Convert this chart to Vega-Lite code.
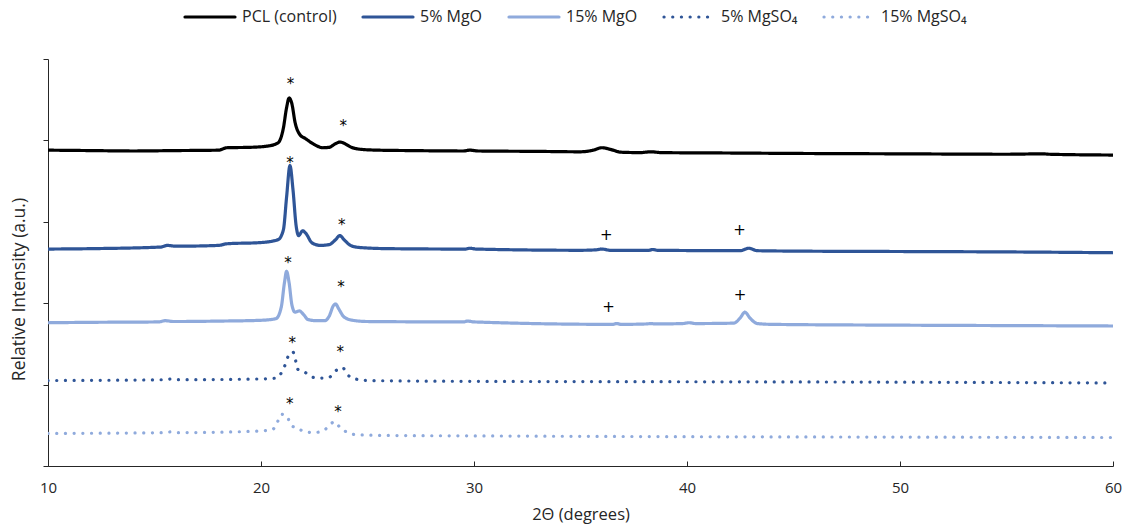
{
 "$schema": "https://vega.github.io/schema/vega-lite/v6.json",
 "width": 1065, "height": 407,
 "autosize": {"type": "none"},
 "padding": {"left": 48, "top": 59, "right": 14, "bottom": 63},
 "background": "white",
 "config": {
  "font": "Open Sans",
  "view": {"stroke": null},
  "axis": {"grid": false, "domainColor": "#262626", "tickColor": "#262626", "labelColor": "#262626", "titleColor": "#262626", "labelFont": "Open Sans", "titleFont": "Open Sans", "labelFontSize": 15, "titleFontSize": 16.5, "titleFontWeight": "normal"},
  "legend": {"labelFont": "Open Sans", "labelFontSize": 16, "labelColor": "#262626"}
 },
 "datasets": {
  "curves": [
   {"s":"PCL (control)","x":10,"y":3.88},{"s":"PCL (control)","x":12,"y":3.875},{"s":"PCL (control)","x":14,"y":3.87},{"s":"PCL (control)","x":16,"y":3.875},{"s":"PCL (control)","x":18,"y":3.88},{"s":"PCL (control)","x":18.4,"y":3.91},{"s":"PCL (control)","x":19.5,"y":3.915},{"s":"PCL (control)","x":20.3,"y":3.93},{"s":"PCL (control)","x":20.8,"y":3.97},{"s":"PCL (control)","x":21.05,"y":4.15},{"s":"PCL (control)","x":21.2,"y":4.4},{"s":"PCL (control)","x":21.32,"y":4.52},{"s":"PCL (control)","x":21.45,"y":4.45},{"s":"PCL (control)","x":21.6,"y":4.22},{"s":"PCL (control)","x":21.8,"y":4.08},{"s":"PCL (control)","x":22.1,"y":4.02},{"s":"PCL (control)","x":22.5,"y":3.95},{"s":"PCL (control)","x":22.9,"y":3.91},{"s":"PCL (control)","x":23.2,"y":3.915},{"s":"PCL (control)","x":23.5,"y":3.96},{"s":"PCL (control)","x":23.7,"y":3.98},{"s":"PCL (control)","x":23.9,"y":3.965},{"s":"PCL (control)","x":24.2,"y":3.92},{"s":"PCL (control)","x":24.7,"y":3.89},{"s":"PCL (control)","x":25.5,"y":3.88},{"s":"PCL (control)","x":27,"y":3.875},{"s":"PCL (control)","x":29.5,"y":3.87},{"s":"PCL (control)","x":29.8,"y":3.88},{"s":"PCL (control)","x":30.2,"y":3.87},{"s":"PCL (control)","x":33,"y":3.865},{"s":"PCL (control)","x":35,"y":3.86},{"s":"PCL (control)","x":35.6,"y":3.88},{"s":"PCL (control)","x":36,"y":3.91},{"s":"PCL (control)","x":36.4,"y":3.89},{"s":"PCL (control)","x":36.9,"y":3.855},{"s":"PCL (control)","x":37.8,"y":3.85},{"s":"PCL (control)","x":38.3,"y":3.86},{"s":"PCL (control)","x":38.8,"y":3.85},{"s":"PCL (control)","x":42,"y":3.845},{"s":"PCL (control)","x":45,"y":3.84},{"s":"PCL (control)","x":50,"y":3.835},{"s":"PCL (control)","x":55,"y":3.83},{"s":"PCL (control)","x":56.7,"y":3.835},{"s":"PCL (control)","x":57,"y":3.83},{"s":"PCL (control)","x":60,"y":3.82},

   {"s":"5% MgO","x":10,"y":2.665},{"s":"5% MgO","x":12,"y":2.67},{"s":"5% MgO","x":15.3,"y":2.69},{"s":"5% MgO","x":15.6,"y":2.71},{"s":"5% MgO","x":16,"y":2.7},{"s":"5% MgO","x":18,"y":2.71},{"s":"5% MgO","x":18.4,"y":2.73},{"s":"5% MgO","x":20,"y":2.745},{"s":"5% MgO","x":20.8,"y":2.78},{"s":"5% MgO","x":21.05,"y":2.9},{"s":"5% MgO","x":21.2,"y":3.3},{"s":"5% MgO","x":21.36,"y":3.69},{"s":"5% MgO","x":21.5,"y":3.4},{"s":"5% MgO","x":21.65,"y":2.95},{"s":"5% MgO","x":21.77,"y":2.83},{"s":"5% MgO","x":21.95,"y":2.89},{"s":"5% MgO","x":22.1,"y":2.86},{"s":"5% MgO","x":22.4,"y":2.74},{"s":"5% MgO","x":22.8,"y":2.71},{"s":"5% MgO","x":23.2,"y":2.72},{"s":"5% MgO","x":23.5,"y":2.78},{"s":"5% MgO","x":23.7,"y":2.83},{"s":"5% MgO","x":23.9,"y":2.78},{"s":"5% MgO","x":24.2,"y":2.71},{"s":"5% MgO","x":24.6,"y":2.685},{"s":"5% MgO","x":26,"y":2.67},{"s":"5% MgO","x":29.6,"y":2.665},{"s":"5% MgO","x":29.8,"y":2.675},{"s":"5% MgO","x":30.1,"y":2.665},{"s":"5% MgO","x":35,"y":2.65},{"s":"5% MgO","x":35.7,"y":2.655},{"s":"5% MgO","x":36,"y":2.665},{"s":"5% MgO","x":36.4,"y":2.65},{"s":"5% MgO","x":38.2,"y":2.65},{"s":"5% MgO","x":38.4,"y":2.66},{"s":"5% MgO","x":38.6,"y":2.65},{"s":"5% MgO","x":42.5,"y":2.645},{"s":"5% MgO","x":42.9,"y":2.675},{"s":"5% MgO","x":43.3,"y":2.645},{"s":"5% MgO","x":45,"y":2.64},{"s":"5% MgO","x":50,"y":2.635},{"s":"5% MgO","x":55,"y":2.63},{"s":"5% MgO","x":60,"y":2.62},

   {"s":"15% MgO","x":10,"y":1.76},{"s":"15% MgO","x":12,"y":1.765},{"s":"15% MgO","x":15.2,"y":1.77},{"s":"15% MgO","x":15.5,"y":1.785},{"s":"15% MgO","x":15.9,"y":1.775},{"s":"15% MgO","x":18,"y":1.78},{"s":"15% MgO","x":20,"y":1.79},{"s":"15% MgO","x":20.7,"y":1.81},{"s":"15% MgO","x":20.95,"y":1.95},{"s":"15% MgO","x":21.1,"y":2.25},{"s":"15% MgO","x":21.2,"y":2.39},{"s":"15% MgO","x":21.32,"y":2.25},{"s":"15% MgO","x":21.45,"y":1.98},{"s":"15% MgO","x":21.6,"y":1.89},{"s":"15% MgO","x":21.8,"y":1.905},{"s":"15% MgO","x":22,"y":1.86},{"s":"15% MgO","x":22.2,"y":1.8},{"s":"15% MgO","x":22.6,"y":1.785},{"s":"15% MgO","x":23,"y":1.785},{"s":"15% MgO","x":23.2,"y":1.84},{"s":"15% MgO","x":23.4,"y":1.97},{"s":"15% MgO","x":23.5,"y":1.99},{"s":"15% MgO","x":23.65,"y":1.93},{"s":"15% MgO","x":23.9,"y":1.83},{"s":"15% MgO","x":24.3,"y":1.79},{"s":"15% MgO","x":25,"y":1.775},{"s":"15% MgO","x":29.5,"y":1.77},{"s":"15% MgO","x":29.7,"y":1.78},{"s":"15% MgO","x":30,"y":1.77},{"s":"15% MgO","x":36.5,"y":1.74},{"s":"15% MgO","x":36.7,"y":1.75},{"s":"15% MgO","x":36.9,"y":1.74},{"s":"15% MgO","x":38.1,"y":1.745},{"s":"15% MgO","x":38.3,"y":1.75},{"s":"15% MgO","x":38.5,"y":1.745},{"s":"15% MgO","x":39.8,"y":1.75},{"s":"15% MgO","x":40.1,"y":1.76},{"s":"15% MgO","x":40.4,"y":1.75},{"s":"15% MgO","x":42.2,"y":1.755},{"s":"15% MgO","x":42.5,"y":1.82},{"s":"15% MgO","x":42.72,"y":1.89},{"s":"15% MgO","x":42.95,"y":1.82},{"s":"15% MgO","x":43.3,"y":1.75},{"s":"15% MgO","x":44,"y":1.74},{"s":"15% MgO","x":50,"y":1.73},{"s":"15% MgO","x":55,"y":1.725},{"s":"15% MgO","x":60,"y":1.72},

   {"s":"5% MgSO₄","x":10,"y":1.05},{"s":"5% MgSO₄","x":15.5,"y":1.06},{"s":"5% MgSO₄","x":15.8,"y":1.07},{"s":"5% MgSO₄","x":16.1,"y":1.06},{"s":"5% MgSO₄","x":20,"y":1.07},{"s":"5% MgSO₄","x":20.7,"y":1.08},{"s":"5% MgSO₄","x":20.97,"y":1.15},{"s":"5% MgSO₄","x":21.13,"y":1.24},{"s":"5% MgSO₄","x":21.28,"y":1.35},{"s":"5% MgSO₄","x":21.5,"y":1.4},{"s":"5% MgSO₄","x":21.63,"y":1.29},{"s":"5% MgSO₄","x":21.72,"y":1.19},{"s":"5% MgSO₄","x":22.07,"y":1.15},{"s":"5% MgSO₄","x":22.43,"y":1.09},{"s":"5% MgSO₄","x":22.82,"y":1.08},{"s":"5% MgSO₄","x":23.2,"y":1.09},{"s":"5% MgSO₄","x":23.51,"y":1.17},{"s":"5% MgSO₄","x":23.82,"y":1.21},{"s":"5% MgSO₄","x":24.07,"y":1.12},{"s":"5% MgSO₄","x":24.43,"y":1.07},{"s":"5% MgSO₄","x":25,"y":1.05},{"s":"5% MgSO₄","x":30,"y":1.04},{"s":"5% MgSO₄","x":40,"y":1.035},{"s":"5% MgSO₄","x":50,"y":1.03},{"s":"5% MgSO₄","x":60,"y":1.02},

   {"s":"15% MgSO₄","x":10,"y":0.4},{"s":"15% MgSO₄","x":15.5,"y":0.41},{"s":"15% MgSO₄","x":15.8,"y":0.42},{"s":"15% MgSO₄","x":16.1,"y":0.41},{"s":"15% MgSO₄","x":20,"y":0.43},{"s":"15% MgSO₄","x":20.55,"y":0.45},{"s":"15% MgSO₄","x":20.77,"y":0.54},{"s":"15% MgSO₄","x":20.95,"y":0.635},{"s":"15% MgSO₄","x":21.23,"y":0.61},{"s":"15% MgSO₄","x":21.38,"y":0.51},{"s":"15% MgSO₄","x":21.72,"y":0.46},{"s":"15% MgSO₄","x":22.1,"y":0.42},{"s":"15% MgSO₄","x":22.47,"y":0.41},{"s":"15% MgSO₄","x":22.9,"y":0.43},{"s":"15% MgSO₄","x":23.19,"y":0.49},{"s":"15% MgSO₄","x":23.44,"y":0.545},{"s":"15% MgSO₄","x":23.72,"y":0.47},{"s":"15% MgSO₄","x":24.08,"y":0.41},{"s":"15% MgSO₄","x":24.46,"y":0.385},{"s":"15% MgSO₄","x":26,"y":0.375},{"s":"15% MgSO₄","x":30,"y":0.37},{"s":"15% MgSO₄","x":40,"y":0.36},{"s":"15% MgSO₄","x":50,"y":0.355},{"s":"15% MgSO₄","x":60,"y":0.35}
  ],
  "stars": [
   {"x":21.39,"y":4.73},{"x":23.86,"y":4.22},
   {"x":21.36,"y":3.77},{"x":23.79,"y":3.0},
   {"x":21.27,"y":2.54},{"x":23.76,"y":2.24},
   {"x":21.47,"y":1.56},{"x":23.72,"y":1.44},
   {"x":21.35,"y":0.81},{"x":23.62,"y":0.71}
  ],
  "plus": [
   {"x":36.21,"y":2.85},{"x":42.47,"y":2.9},
   {"x":36.32,"y":1.96},{"x":42.49,"y":2.11}
  ]
 },
 "layer": [
  {
   "data": {"name": "curves"},
   "mark": {"type": "line", "strokeCap": "round", "strokeJoin": "round", "interpolate": "monotone", "clip": true},
   "encoding": {
    "x": {"field": "x", "type": "quantitative", "scale": {"domain": [10, 60], "nice": false}, "axis": {"values": [10,20,30,40,50,60], "format": "d", "title": "2Θ (degrees)", "tickSize": -5, "labelFlush": false, "labelPadding": 19, "titlePadding": 11}},
    "y": {"field": "y", "type": "quantitative", "scale": {"domain": [0, 5], "nice": false}, "axis": {"values": [0,1,2,3,4,5], "labels": false, "tickSize": 5, "title": "Relative Intensity (a.u.)", "titleFontSize": 17.5, "titlePadding": 14, "titleY": 230}},
    "color": {"field": "s", "type": "nominal", "scale": {"domain": ["PCL (control)","5% MgO","15% MgO","5% MgSO₄","15% MgSO₄"], "range": ["#000000","#2F5597","#8FAADC","#2F5597","#8FAADC"]},
     "legend": {"orient": "none", "legendX": 135, "legendY": -69, "direction": "horizontal", "title": null, "symbolType": "stroke", "symbolSize": 2500, "symbolStrokeWidth": 3.2, "columnPadding": 19, "labelOffset": 5, "encode": {"symbols": {"update": {"strokeCap": {"value": "round"}}}}}},
    "strokeDash": {"field": "s", "type": "nominal", "scale": {"domain": ["PCL (control)","5% MgO","15% MgO","5% MgSO₄","15% MgSO₄"], "range": [[1,0],[1,0],[1,0],[0.1,8.6],[0.1,8.6]]}, "legend": null},
    "strokeWidth": {"field": "s", "type": "nominal", "scale": {"domain": ["PCL (control)","5% MgO","15% MgO","5% MgSO₄","15% MgSO₄"], "range": [3.2,3.2,3.2,3.8,3.8]}, "legend": null}
   }
  },
  {
   "data": {"name": "stars"},
   "mark": {"type": "text", "text": "*", "fontSize": 15, "font": "DejaVu Sans", "color": "#000000", "align": "center", "baseline": "alphabetic", "dy": 8.5},
   "encoding": {
    "x": {"field": "x", "type": "quantitative"},
    "y": {"field": "y", "type": "quantitative"}
   }
  },
  {
   "data": {"name": "plus"},
   "mark": {"type": "text", "text": "+", "fontSize": 15, "font": "DejaVu Sans", "color": "#000000", "align": "center", "baseline": "alphabetic", "dy": 5.5},
   "encoding": {
    "x": {"field": "x", "type": "quantitative"},
    "y": {"field": "y", "type": "quantitative"}
   }
  }
 ]
}
